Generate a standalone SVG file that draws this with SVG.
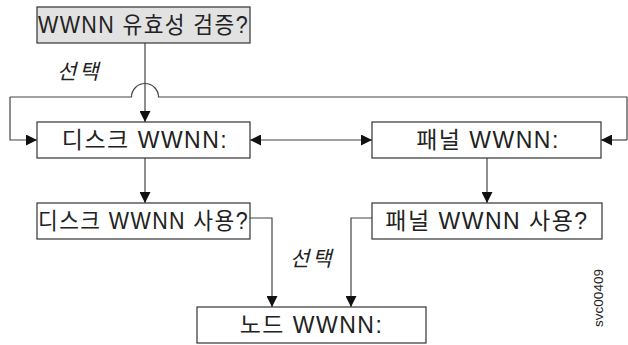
<svg xmlns="http://www.w3.org/2000/svg" width="628" height="345" viewBox="0 0 628 345">
<defs>
<marker id="ah" viewBox="0 0 10 10" refX="10" refY="5" markerWidth="11" markerHeight="11" markerUnits="userSpaceOnUse" orient="auto-start-reverse">
<path d="M0,0 L10,5 L0,10 z" fill="#111"/>
</marker>
</defs>
<style>
.box{fill:#fff;stroke:#333;stroke-width:1.2}
.gray{fill:#e2e2e2}
.t{font-family:"Liberation Sans","Noto Sans CJK KR",sans-serif;font-size:23px;fill:#222;letter-spacing:1.5px}
.lbl{font-family:"Liberation Sans","Noto Sans CJK KR",sans-serif;font-size:21px;font-style:italic;fill:#222;letter-spacing:3px}
.ln{fill:none;stroke:#444;stroke-width:1.2}
.id{font-family:"Liberation Sans",Arial,sans-serif;font-size:13.5px;fill:#222}
</style>
<rect width="628" height="345" fill="#fff"/>
<g id="connectors">
<path class="ln" d="M10,97 H131.5 A13.5,13.5 0 0 1 158.5,97 H627 V140"/>
<path class="ln" d="M10,97 V140 H37" marker-end="url(#ah)"/>
<path class="ln" d="M627,140 H601" marker-end="url(#ah)"/>
<path class="ln" d="M145,43 V122" marker-end="url(#ah)"/>
<path class="ln" d="M250,140 H372" marker-start="url(#ah)" marker-end="url(#ah)"/>
<path class="ln" d="M145,158 V203" marker-end="url(#ah)"/>
<path class="ln" d="M487,158 V203" marker-end="url(#ah)"/>
<path class="ln" d="M250,218 H272 V307" marker-end="url(#ah)"/>
<path class="ln" d="M372,218 H351 V307" marker-end="url(#ah)"/>
<text class="lbl" x="57" y="79">선택</text>
<text class="lbl" x="290" y="266">선택</text>
</g>
<g id="validate">
<rect class="box gray" x="37" y="7" width="213" height="36"/>
<text class="t" x="38" y="33" textLength="211" lengthAdjust="spacingAndGlyphs">WWNN 유효성 검증?</text>
</g>
<g id="disk">
<rect class="box" x="37" y="122" width="213" height="36"/>
<text class="t" x="145" y="148" text-anchor="middle">디스크 WWNN:</text>
</g>
<g id="panel">
<rect class="box" x="372" y="122" width="229" height="36"/>
<text class="t" x="488" y="148" text-anchor="middle">패널 WWNN:</text>
</g>
<g id="diskuse">
<rect class="box" x="37" y="203" width="213" height="36"/>
<text class="t" x="38" y="229" textLength="211" lengthAdjust="spacingAndGlyphs">디스크 WWNN 사용?</text>
</g>
<g id="paneluse">
<rect class="box" x="372" y="203" width="230" height="36"/>
<text class="t" x="487" y="229" text-anchor="middle">패널 WWNN 사용?</text>
</g>
<g id="node">
<rect class="box" x="197" y="307" width="229" height="36"/>
<text class="t" x="311.5" y="333" text-anchor="middle">노드 WWNN:</text>
</g>
<text class="id" transform="translate(603,298) rotate(-90)" text-anchor="middle">svc00409</text>
</svg>
